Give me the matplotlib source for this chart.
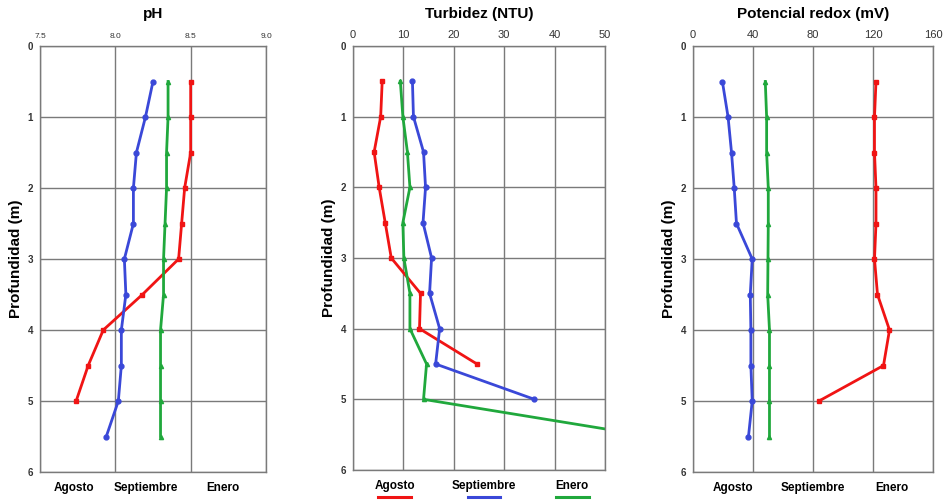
import matplotlib
matplotlib.use('Agg')
import matplotlib.pyplot as plt
from matplotlib.lines import Line2D

plt.rcParams['font.family'] = ['Liberation Sans', 'DejaVu Sans']

# Profundidades (m)
prof_10 = [0.5, 1.0, 1.5, 2.0, 2.5, 3.0, 3.5, 4.0, 4.5, 5.0]
prof_11 = [0.5, 1.0, 1.5, 2.0, 2.5, 3.0, 3.5, 4.0, 4.5, 5.0, 5.5]
prof_9 = [0.5, 1.0, 1.5, 2.0, 2.5, 3.0, 3.5, 4.0, 4.5]

# pH
ph_agosto = [8.50, 8.50, 8.50, 8.46, 8.44, 8.42, 8.18, 7.92, 7.82, 7.74]
ph_septiembre = [8.25, 8.20, 8.14, 8.12, 8.12, 8.06, 8.07, 8.04, 8.04, 8.02, 7.94]
ph_enero = [8.35, 8.35, 8.34, 8.34, 8.33, 8.32, 8.32, 8.30, 8.30, 8.30, 8.30]

# Turbidez (NTU)
turb_agosto = [5.8, 5.5, 4.2, 5.2, 6.4, 7.6, 13.4, 13.2, 24.6]
turb_septiembre = [11.8, 12.0, 14.0, 14.4, 13.9, 15.6, 15.2, 17.2, 16.4, 36.0]
turb_enero = [9.4, 9.9, 10.8, 11.3, 9.9, 10.1, 11.3, 11.3, 14.6, 14.0, 57.0]

# Potencial redox (mV)
redox_agosto = [122, 121, 121, 122, 122, 121, 123, 131, 127, 84]
redox_septiembre = [19.6, 23.4, 25.7, 27.5, 29.0, 39.5, 38.2, 38.6, 38.6, 39.5, 37.0]
redox_enero = [48.2, 49.1, 49.1, 50.2, 50.2, 50.0, 49.8, 51.0, 51.0, 51.0, 51.0]

meses = ['Agosto', 'Septiembre', 'Enero']
rojo, azul, verde = '#f01414', '#3a48d8', '#20a83c'

fig = plt.figure(figsize=(9.45, 5.0), dpi=100)


def panel(rect, titulo, xlim, xticks, xticklabels, series, tick_fs, leg_x, leg_cols, seg_y):
    ax = fig.add_axes(rect)
    for x, y, c, m, ms in series:
        ax.plot(x, y, color=c, lw=2, marker=m, ms=ms, clip_on=True)
    ax.set_xlim(xlim)
    ax.set_ylim(6, 0)
    ax.set_xticks(xticks)
    ax.set_xticklabels(xticklabels)
    ax.set_yticks(range(7))
    ax.xaxis.tick_top()
    ax.tick_params(axis='x', labelsize=tick_fs, length=0, pad=4, colors='#333333')
    ax.tick_params(axis='y', labelsize=7, length=0, pad=5, colors='#333333')
    for lab in ax.get_yticklabels():
        lab.set_fontweight('bold')
    ax.grid(True, color='#7a7a7a', lw=1)
    ax.set_axisbelow(True)
    for s in ax.spines.values():
        s.set_color('#7a7a7a')
        s.set_linewidth(1)
    ax.set_title(titulo, fontsize=11, fontweight='bold', pad=20)
    ax.set_ylabel('Profundidad (m)', fontsize=11, fontweight='bold', labelpad=3)
    for xm, mes, c in zip(leg_x, meses, leg_cols):
        ax.text(xm, -0.038, mes, transform=ax.transAxes, ha='center', va='center',
                fontsize=8.5, fontweight='bold')
        if c is not None:
            ax.add_line(Line2D([xm - 0.065, xm + 0.065], [seg_y, seg_y], transform=ax.transAxes,
                               color=c, lw=2.2, clip_on=False))
    return ax


panel([0.0423, 0.056, 0.2392, 0.852], 'pH', (7.5, 9.0), [7.5, 8.0, 8.5, 9.0],
      ['7.5', '8.0', '8.5', '9.0'],
      [(ph_agosto, prof_10, rojo, 's', 3.5), (ph_septiembre, prof_11, azul, 'o', 3.5),
       (ph_enero, prof_11, verde, '^', 3)],
      6, [0.15, 0.47, 0.81], [None, None, None], -0.1)

panel([0.3735, 0.06, 0.2667, 0.848], 'Turbidez (NTU)', (0, 50), range(0, 51, 10),
      [str(v) for v in range(0, 51, 10)],
      [(turb_agosto, prof_9, rojo, 's', 3.5), (turb_septiembre, prof_10, azul, 'o', 3.5),
       (turb_enero, prof_11, verde, '^', 3)],
      8, [0.165, 0.52, 0.87], [rojo, azul, verde], -0.064)

panel([0.7333, 0.056, 0.254, 0.852], 'Potencial redox (mV)', (0, 160), [0, 40, 80, 120, 160],
      ['0', '40', '80', '120', '160'],
      [(redox_agosto, prof_10, rojo, 's', 3.5), (redox_septiembre, prof_11, azul, 'o', 3.5),
       (redox_enero, prof_11, verde, '^', 3)],
      8, [0.165, 0.5, 0.83], ['#c81818', '#9a9a9a', verde], -0.07)

fig.savefig('out.png', dpi=100)
